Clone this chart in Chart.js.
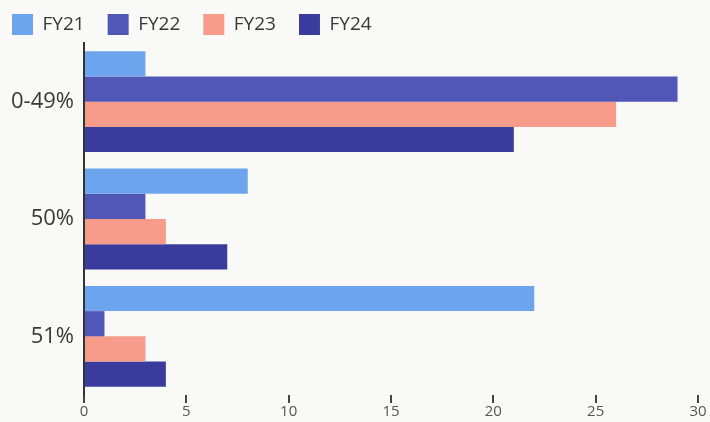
<!DOCTYPE html>
<html>
<head>
<meta charset="utf-8">
<script src="https://cdn.jsdelivr.net/npm/chart.js@4.4.1/dist/chart.umd.min.js"></script>
<style>
  html, body { margin: 0; padding: 0; background: #f9f9f7; }
  #wrap { width: 710px; height: 422px; position: relative; }
</style>
</head>
<body>
<div id="wrap"><canvas id="c"></canvas></div>
<script>
// Share bands shown on the vertical axis
const categories = ['0-49%', '50%', '51%'];
// Fiscal-year series
const seriesNames = ['FY21', 'FY22', 'FY23', 'FY24'];
const fy21 = [3, 8, 22];
const fy22 = [29, 3, 1];
const fy23 = [26, 4, 3];
const fy24 = [21, 7, 4];
// Horizontal axis ticks
const xTicks = [0, 5, 10, 15, 20, 25, 30];

const colors = ['#6ca4ee', '#5157b6', '#f79b8b', '#3a3c9d'];
const values = [fy21, fy22, fy23, fy24];

// Keep the legend band compact so the plot starts right below it
const legendHeight = {
  id: 'legendHeight',
  afterInit(chart) {
    const lg = chart.legend;
    if (!lg) return;
    const fit = lg.fit;
    lg.fit = function () {
      fit.call(this);
      this.height = 52;
    };
  }
};

new Chart(document.getElementById('c'), {
  type: 'bar',
  data: {
    labels: categories,
    datasets: seriesNames.map((name, i) => ({
      label: name,
      data: values[i],
      backgroundColor: colors[i],
      borderWidth: 0,
      barPercentage: 1.0,
      categoryPercentage: 0.86
    }))
  },
  plugins: [legendHeight],
  options: {
    indexAxis: 'y',
    responsive: true,
    maintainAspectRatio: false,
    animation: false,
    layout: { padding: { left: -11, right: 12, top: -9, bottom: 1 } },
    plugins: {
      tooltip: { enabled: false },
      legend: {
        position: 'top',
        align: 'start',
        labels: {
          boxWidth: 21,
          boxHeight: 21,
          padding: 23,
          color: '#383838',
          font: { family: 'Open Sans', size: 19 }
        }
      }
    },
    scales: {
      x: {
        min: 0,
        max: 30,
        afterBuildTicks: (axis) => { axis.ticks = xTicks.map(v => ({ value: v })); },
        border: { display: false },
        grid: {
          display: true,
          drawOnChartArea: false,
          drawTicks: true,
          tickLength: 8,
          lineWidth: 2,
          color: '#444'
        },
        ticks: {
          padding: 0,
          color: '#555',
          font: { family: 'Open Sans', size: 15 }
        }
      },
      y: {
        afterFit: (axis) => { axis.width = 95; },
        border: { display: true, color: '#333', width: 2 },
        grid: { display: false, drawTicks: false },
        ticks: {
          padding: 10,
          color: '#383838',
          font: { family: 'Open Sans', size: 22 }
        }
      }
    }
  }
});
</script>
</body>
</html>
